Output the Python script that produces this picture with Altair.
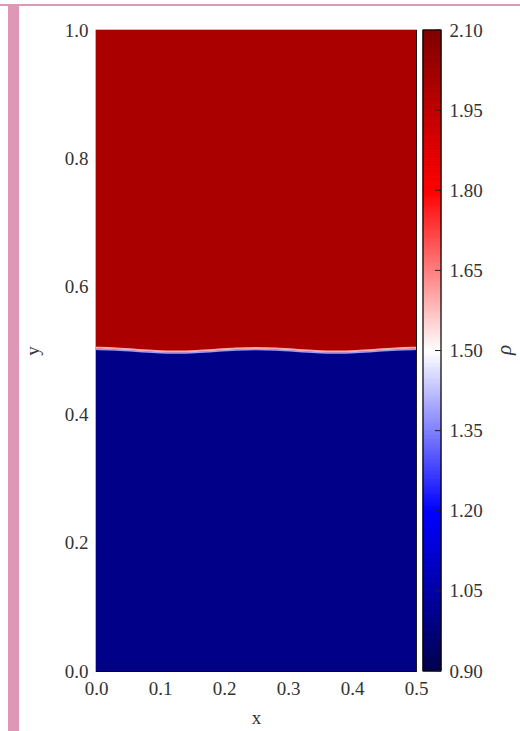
import altair as alt
import pandas as pd

x_vals = [0.0, 0.03125, 0.0625, 0.09375, 0.125, 0.15625, 0.1875, 0.21875, 0.25,
          0.28125, 0.3125, 0.34375, 0.375, 0.40625, 0.4375, 0.46875, 0.5]
y_iface = [0.5039, 0.5030, 0.5008, 0.4986, 0.4977, 0.4986, 0.5008, 0.5030, 0.5039,
           0.5030, 0.5008, 0.4986, 0.4977, 0.4986, 0.5008, 0.5030, 0.5039]
rho_heavy = 2.0     # upper fluid density
rho_light = 1.0     # lower fluid density
rho_band_hi = 1.6   # thin mixing layer (upper side)
rho_band_lo = 1.38  # thin mixing layer (lower side)
x_ticks = [0.0, 0.1, 0.2, 0.3, 0.4, 0.5]
y_ticks = [0.0, 0.2, 0.4, 0.6, 0.8, 1.0]
cbar_ticks = [0.90, 1.05, 1.20, 1.35, 1.50, 1.65, 1.80, 1.95, 2.10]
cbar_min, cbar_max = 0.90, 2.10
cbar_label = "ρ"

n = len(x_vals)
df = pd.DataFrame({
    "x": x_vals,
    "yi": y_iface,
    "y0": [0.0] * n,
    "y1": [1.0] * n,
    "rho_top": [rho_heavy] * n,
    "rho_bot": [rho_light] * n,
    "rho_hi": [rho_band_hi] * n,
    "rho_lo": [rho_band_lo] * n,
})

# colour-bar strip: the scale sampled in small steps
n_stops = 240
step = (cbar_max - cbar_min) / n_stops
cbar_df = pd.DataFrame({
    "r": [cbar_min + i * step for i in range(n_stops)],
    "r2": [cbar_min + (i + 1) * step for i in range(n_stops)],
    "rc": [cbar_min + (i + 0.5) * step for i in range(n_stops)],
})
tick_df = pd.DataFrame({"t": cbar_ticks})
frame_df = pd.DataFrame({"lo": [cbar_min], "hi": [cbar_max]})

FONT = "Liberation Serif"
PINK = "#de98b6"
TXT = "#333333"

cdomain = [0.9, 1.2, 1.5, 1.8, 2.1]
crange = ["#00004d", "#0000ff", "#ffffff", "#ff0000", "#800000"]
cscale = alt.Scale(domain=cdomain, range=crange, interpolate="rgb")
sscale = alt.Scale(domain=cdomain, range=crange, interpolate="rgb")

xenc = alt.X("x:Q", scale=alt.Scale(domain=[0, 0.5], nice=False),
             axis=alt.Axis(values=x_ticks, format=".1f", title="x", ticks=False,
                           grid=False, domain=False, labelPadding=8, titlePadding=10,
                           labelFlush=False))
yscale = alt.Scale(domain=[0, 1], nice=False)
yaxis = alt.Axis(values=y_ticks, format=".1f", title="y", ticks=False, grid=False,
                 domain=False, labelPadding=8, titlePadding=22, labelFlush=False)

base = alt.Chart(df)

bottom = base.mark_area(interpolate="basis").encode(
    x=xenc,
    y=alt.Y("yi:Q", scale=yscale, axis=yaxis),
    y2="y0:Q",
    color=alt.Color("rho_bot:Q", scale=cscale, legend=None),
)
top = base.mark_area(interpolate="basis").encode(
    x="x:Q", y="yi:Q", y2="y1:Q",
    color=alt.Color("rho_top:Q", scale=cscale, legend=None),
)
band_lo = base.mark_line(interpolate="basis", strokeWidth=1.5, yOffset=1.3).encode(
    x="x:Q", y="yi:Q",
    color=alt.Color("rho_lo:Q", scale=cscale, legend=None),
)
band_hi = base.mark_line(interpolate="basis", strokeWidth=2, yOffset=-0.3).encode(
    x="x:Q", y="yi:Q",
    color=alt.Color("rho_hi:Q", scale=cscale, legend=None),
)
main = alt.layer(bottom, top, band_lo, band_hi)

# colour bar (own y scale, axis on its right side)
cb_scale = alt.Scale(domain=[cbar_min, cbar_max], nice=False, zero=False)
cb_axis = alt.Axis(orient="right", values=cbar_ticks, format=".2f", title=None,
                   ticks=False, grid=False, domain=False, labelFlush=False,
                   offset=25, labelPadding=8)
cb_strip = alt.Chart(cbar_df).mark_rect(strokeWidth=1).encode(
    x=alt.value(327), x2=alt.value(345),
    y=alt.Y("r:Q", scale=cb_scale, axis=cb_axis),
    y2="r2:Q",
    color=alt.Color("rc:Q", scale=cscale, legend=None),
    stroke=alt.Stroke("rc:Q", scale=sscale, legend=None),
)
cb_frame = alt.Chart(frame_df).mark_rect(filled=False, stroke="black",
                                         strokeWidth=1.2).encode(
    x=alt.value(327), x2=alt.value(345), y="lo:Q", y2="hi:Q")
cb_ticks = alt.Chart(tick_df).mark_rule(color="#222", strokeWidth=1).encode(
    x=alt.value(339), x2=alt.value(345), y="t:Q")
cbar = alt.layer(cb_strip, cb_frame, cb_ticks)

deco = alt.Chart(alt.Data(values=[{"t": cbar_label}]))
bar = deco.mark_rule(color=PINK, strokeWidth=11).encode(
    x=alt.value(-82.5), y=alt.value(-26), y2=alt.value(701))
topline = deco.mark_rule(color=PINK, strokeWidth=2).encode(
    x=alt.value(-96), x2=alt.value(424), y=alt.value(-25))
rho_title = deco.mark_text(angle=270, font=FONT, fontSize=21, fontStyle="italic",
                           color=TXT, baseline="middle", align="center").encode(
    text="t:N", x=alt.value(409), y=alt.value(320))

chart = alt.layer(main, cbar, bar, topline, rho_title).resolve_scale(
    y="independent"
).properties(
    width=320, height=641,
    autosize=alt.AutoSizeParams(type="none"),
    padding={"left": 96, "top": 30, "right": 104, "bottom": 60},
    background="white",
).configure_view(
    stroke="black", strokeWidth=1.2
).configure_axis(
    labelFont=FONT, labelFontSize=19, labelColor=TXT,
    titleFont=FONT, titleFontSize=19, titleFontWeight="normal", titleColor=TXT,
)

chart.save("out.html", embed_options={"renderer": "svg", "actions": False})
